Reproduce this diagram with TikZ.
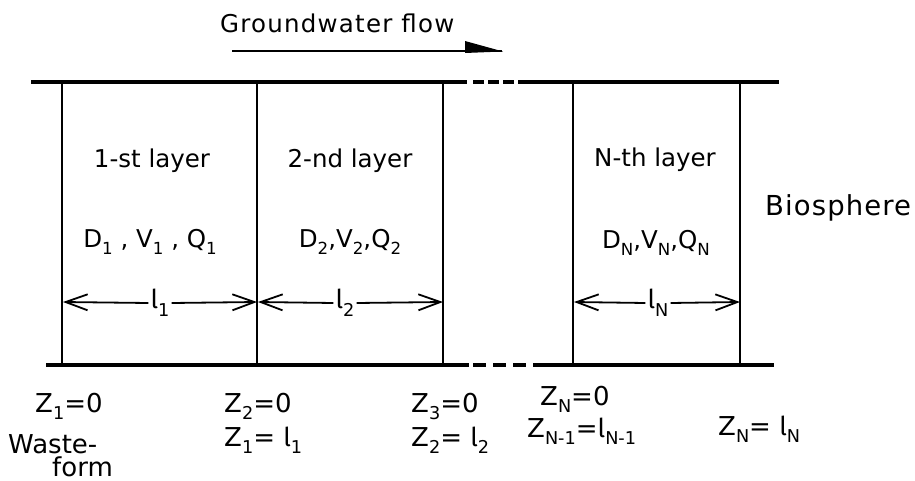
\documentclass[tikz,border=0pt]{standalone}
\usepackage{fontspec}
\setmainfont{DejaVu Sans}
\newfontfamily\lfont{Fira Sans}
\usetikzlibrary{arrows.meta}
\newcommand{\lsub}[1]{\raisebox{-0.3em}{\scalebox{0.68}{#1}}}
\newcommand{\ltr}{{\lfont l}}
\begin{document}
\begin{tikzpicture}[x=1pt,y=-1pt,
  lbl/.style={inner sep=0pt, anchor=base, font=\fontsize{24.5}{26}\selectfont},
  zl/.style={inner sep=0pt, anchor=base west, font=\fontsize{26}{28}\selectfont},
  rail/.style={line width=3.8pt},
  wall/.style={line width=2.8pt},
  dim/.style={line width=1.8pt, -{Straight Barb[length=22pt,width=16pt,line width=1.8pt]}},
  dimlbl/.style={inner sep=2pt, font=\fontsize{26}{28}\selectfont}]
\useasboundingbox (0,0) rectangle (915,481);

% rails
\coordinate (T0) at (31,82);  \coordinate (T1) at (467,82);
\coordinate (T2) at (473,82); \coordinate (T3) at (518,82);
\coordinate (T4) at (779,82);
\coordinate (B0) at (46,365); \coordinate (B1) at (469,365);
\coordinate (B2) at (473,365); \coordinate (B3) at (533,365);
\coordinate (B4) at (774,365);
\draw[rail] (T0) -- (T1);
\draw[rail, dash pattern=on 11pt off 4pt] (T2) -- (T3);
\draw[rail] (T3) -- (T4);
\draw[rail] (B0) -- (B1);
\draw[rail, dash pattern=on 13pt off 7pt] (B2) -- (B3);
\draw[rail] (B3) -- (B4);

% walls
\foreach \i/\x in {1/62,2/257,3/443,4/573,5/740}{
  \coordinate (w\i t) at (\x,82);
  \coordinate (w\i b) at (\x,365);
  \draw[wall] (w\i t) -- (w\i b);
}

% groundwater flow
\node[inner sep=0pt, anchor=base west, font=\fontsize{24.5}{26}\selectfont\addfontfeature{LetterSpace=5}] (gw) at (220,33) {Groundwater flow};
\coordinate (g0) at (232,51); \coordinate (g1) at (502,51);
\draw[line width=2.6pt] (g0) -- (g1);
\fill (465,41) -- (503,51.5) -- (465,53) -- cycle;

% layer labels
\node[lbl] (n1) at (152,168) {1-st layer};
\node[lbl] (n2) at (350,168) {2-nd layer};
\node[lbl] (nN) at (655,167) {N-th layer};
\node[lbl] (p1) at (150,247) {D\lsub{1} , V\lsub{1} , Q\lsub{1}};
\node[lbl] (p2) at (350,247) {D\lsub{2},V\lsub{2},Q\lsub{2}};
\node[lbl] (pN) at (656,248) {D\lsub{N},V\lsub{N},Q\lsub{N}};
\node[inner sep=0pt, anchor=base west, font=\fontsize{27.5}{29}\selectfont\addfontfeature{LetterSpace=4}] (bio) at (765,215) {Biosphere};

% dimensions
\node[dimlbl] (l1) at (160,303) {\ltr\lsub{1}};
\node[dimlbl] (l2) at (345,303) {\ltr\lsub{2}};
\node[dimlbl] (lN) at (658,303) {\ltr\lsub{N}};
\coordinate (d1l) at (63,302); \coordinate (d1r) at (257,302);
\coordinate (d2l) at (258,302); \coordinate (d2r) at (443,302);
\coordinate (dNl) at (574,302); \coordinate (dNr) at (740,302);
\draw[dim] (l1.west) -- (d1l);
\draw[dim] (l1.east) -- (d1r);
\draw[dim] (l2.west) -- (d2l);
\draw[dim] (l2.east) -- (d2r);
\draw[dim] (lN.west) -- (dNl);
\draw[dim] (lN.east) -- (dNr);

% boundary labels
\node[zl] (z1) at (35,412) {Z\lsub{1}=0};
\node[zl] (wf1) at (8,453) {Waste-};
\node[zl] (wf2) at (52,476) {form};
\node[zl] (z2a) at (224,412) {Z\lsub{2}=0};
\node[zl] (z2b) at (224,446) {Z\lsub{1}= \ltr\lsub{1}};
\node[zl] (z3a) at (411,412) {Z\lsub{3}=0};
\node[zl] (z3b) at (411,446) {Z\lsub{2}= \ltr\lsub{2}};
\node[zl] (zNa) at (540,405) {Z\lsub{N}=0};
\node[zl] (zNb) at (527,437) {Z\lsub{N-1}=\ltr\lsub{N-1}};
\node[zl] (zNc) at (718,435) {Z\lsub{N}= \ltr\lsub{N}};
\end{tikzpicture}
\end{document}
